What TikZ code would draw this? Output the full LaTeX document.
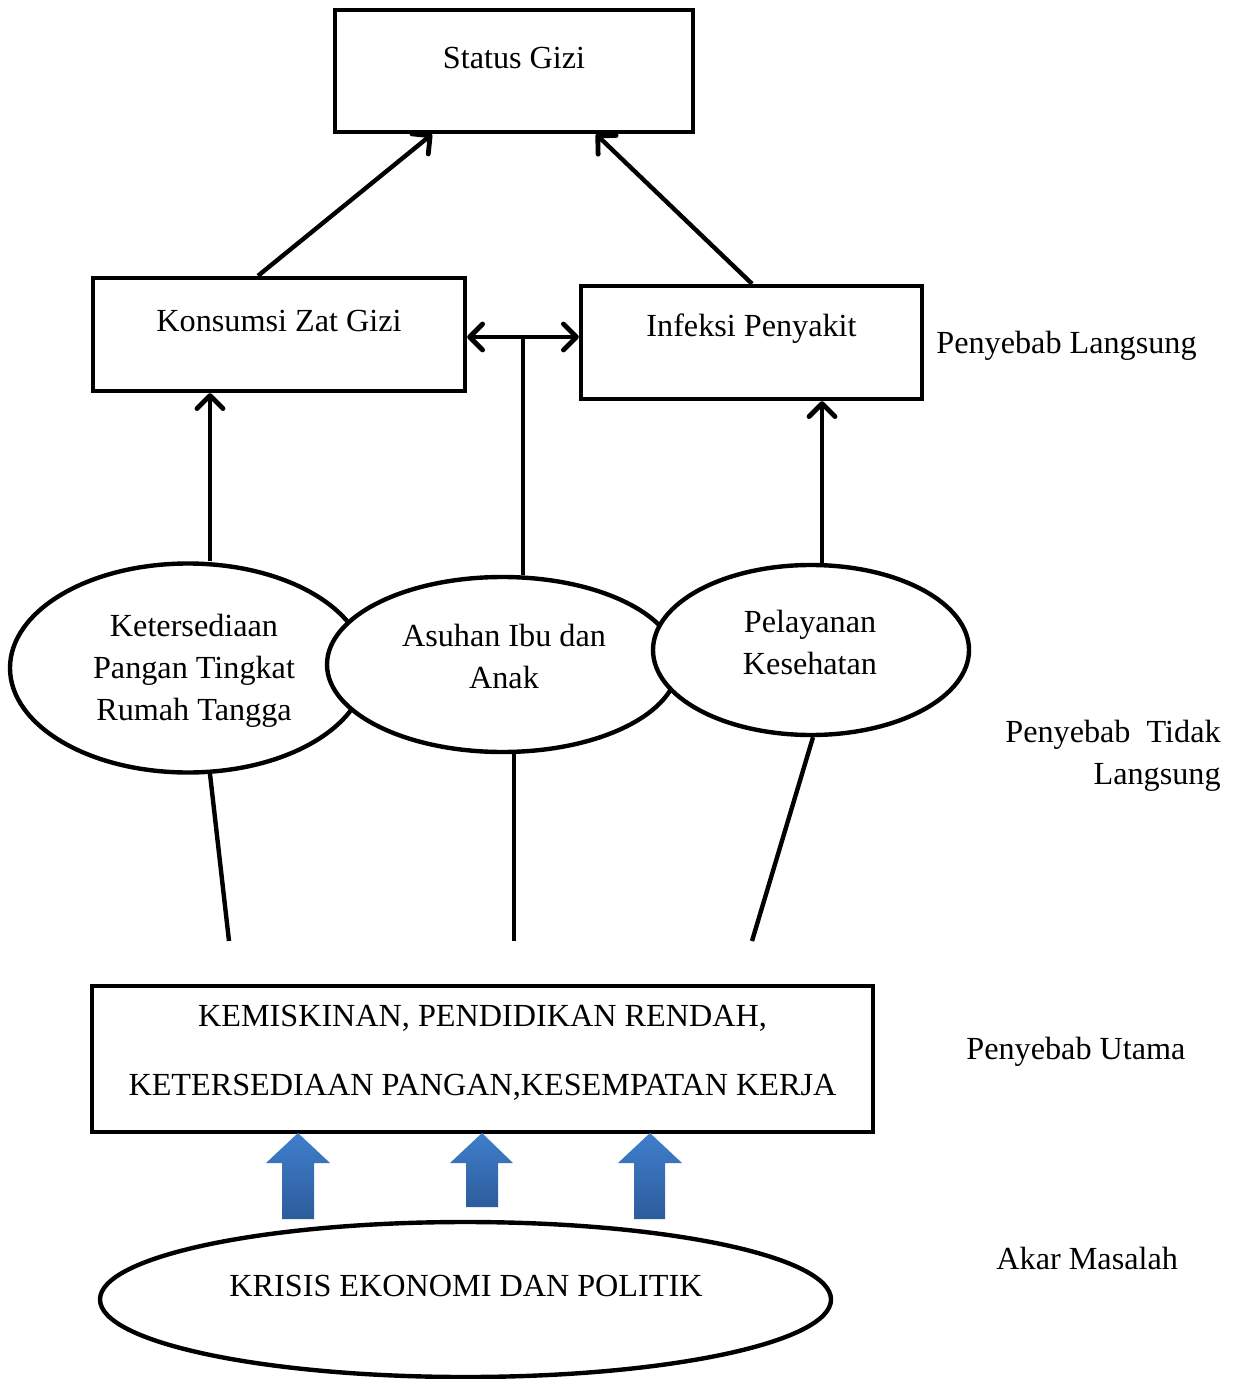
\documentclass[tikz,border=0pt]{standalone}
\usepackage{fontspec}
\setmainfont{Liberation Serif}
\usetikzlibrary{arrows.meta,shapes.geometric}
\definecolor{bluetop}{HTML}{3F7FCC}
\definecolor{bluebot}{HTML}{2D5C9C}
\tikzset{
  box/.style={draw, line width=2.2pt, rectangle, inner sep=0pt},
  ell/.style={draw, line width=2.2pt, ellipse, fill=white, inner sep=0pt},
  txt/.style={inner sep=0pt, align=center, font=\fontsize{16.1}{21}\selectfont},
  conn/.style={line width=2.2pt},
  tip/.style={Straight Barb[length=6.5pt,width=13pt,line width=2.4pt,round]},
  arr/.style={line width=2.2pt, -{Straight Barb[length=6.5pt,width=13pt,line width=2.4pt,round]}},
  darr/.style={line width=2.2pt, {Straight Barb[length=6.5pt,width=13pt,line width=2.4pt,round]}-{Straight Barb[length=6.5pt,width=13pt,line width=2.4pt,round]}},
  bluearrow/.style={top color=bluetop, bottom color=bluebot, draw=none}
}
\begin{document}
\begin{tikzpicture}[x=0.5pt,y=-0.5pt]
\useasboundingbox (0,0) rectangle (1237,1379);
% boxes
\node[box, minimum width=179pt, minimum height=61pt] (sg) at (514,71) {};
\node[txt] (sgt) at (514,58) {Status Gizi};
\node[box, minimum width=186pt, minimum height=56.5pt] (kon) at (279,334.5) {};
\node[txt] (kont) at (279,321) {Konsumsi Zat Gizi};
\node[box, minimum width=170.5pt, minimum height=56.5pt] (inf) at (751.5,342.5) {};
\node[txt] (inft) at (751.5,329) {Infeksi Penyakit};
% ellipses
\node[ell, minimum width=178pt, minimum height=104.5pt] (lell) at (188,668) {};
\node[txt] (lellt) at (194,671) {Ketersediaan\\Pangan Tingkat\\Rumah Tangga};
\node[ell, minimum width=175.5pt, minimum height=87.5pt] (mell) at (502.5,664.5) {};
\node[txt] (mellt) at (504,656) {Asuhan Ibu dan\\Anak};
\node[ell, minimum width=158pt, minimum height=85pt] (rell) at (811,650) {};
\node[txt] (rellt) at (810,642) {Pelayanan\\Kesehatan};
% bottom box
\node[box, minimum width=390.5pt, minimum height=73pt] (ut) at (482.5,1059) {};
\node[txt] (ut1) at (482.5,1018) {KEMISKINAN, PENDIDIKAN RENDAH,};
\node[txt] (ut2) at (482.5,1087) {KETERSEDIAAN PANGAN,KESEMPATAN KERJA};
% root ellipse
\node[ell, minimum width=365.5pt, minimum height=77.5pt] (akar) at (465.5,1299.5) {};
\node[txt] (akart) at (466,1286) {KRISIS EKONOMI DAN POLITIK};
% side labels
\node[txt, anchor=west] (l1) at (936,346) {Penyebab Langsung};
\node[txt, anchor=east, align=right] (l2) at (1221,756) {Penyebab\ \ Tidak\\Langsung};
\node[txt, anchor=west] (l3) at (966,1052) {Penyebab Utama};
\node[txt, anchor=west] (l4) at (996,1258) {Akar Masalah};
% connectors
\coordinate (ka) at (258,276);
\coordinate (kb) at (432,133);
\coordinate (ia) at (752,284);
\coordinate (ib) at (596,133);
\draw[arr] (kon.north -| ka) -- (sg.south -| kb);
\draw[arr] (inf.north -| ia) -- (sg.south -| ib);
\draw[darr] (kon.east |- 0,337) -- (inf.west |- 0,337);
\draw[conn] (523,337) -- (mell.north -| 523,0);
\draw[arr] (lell.north -| 210,0) -- (kon.south -| 210,0);
\draw[arr] (rell.north -| 822,0) -- (inf.south -| 822,0);
\coordinate (e1) at (229,941);
\coordinate (e2) at (514,941);
\coordinate (e3) at (752,941);
\draw[conn] (210,774) -- (e1);
\draw[conn] (mell.south -| 514,0) -- (e2);
\draw[conn] (rell.south) ++(2,0) -- (e3);
% blue arrows
\shade[bluearrow] (298,1133) -- (330,1163) -- (314,1163) -- (314,1219) -- (282,1219) -- (282,1163) -- (266,1163) -- cycle;
\shade[bluearrow] (482,1133) -- (513,1163) -- (498,1163) -- (498,1207) -- (466,1207) -- (466,1163) -- (450,1163) -- cycle;
\shade[bluearrow] (650,1133) -- (682,1163) -- (665,1163) -- (665,1219) -- (634,1219) -- (634,1163) -- (618,1163) -- cycle;
\end{tikzpicture}
\end{document}
